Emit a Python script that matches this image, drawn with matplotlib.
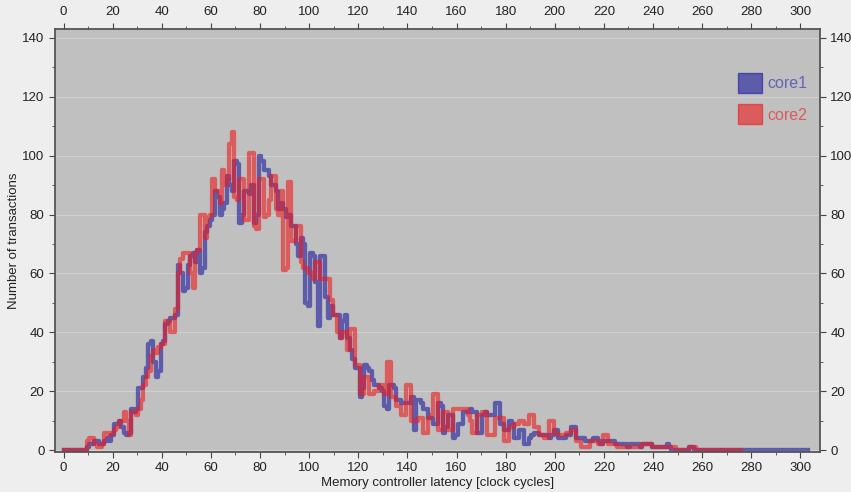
import matplotlib.pyplot as plt
from matplotlib.patches import Patch

# latency histogram, one bin per clock cycle
core1_counts = [
    0, 0, 0, 0, 0, 0, 0, 0, 0, 0,
    1, 2, 2, 3, 3, 2, 2, 3, 4, 3,
    5, 9, 9, 10, 8, 6, 5, 6, 14, 13,
    14, 21, 21, 25, 28, 36, 37, 30, 25, 27,
    36, 37, 43, 44, 45, 45, 46, 63, 60, 54,
    55, 63, 66, 67, 64, 68, 60, 62, 74, 76,
    78, 80, 88, 86, 80, 82, 84, 93, 90, 88,
    98, 97, 77, 80, 88, 88, 87, 90, 77, 80,
    100, 98, 95, 95, 93, 90, 90, 88, 82, 84,
    82, 79, 80, 76, 76, 70, 66, 72, 70, 50,
    49, 67, 66, 57, 42, 66, 66, 52, 45, 49,
    46, 46, 46, 38, 44, 46, 38, 34, 31, 28,
    28, 18, 21, 29, 28, 27, 24, 22, 22, 21,
    20, 15, 14, 22, 22, 21, 17, 17, 16, 16,
    16, 16, 18, 7, 17, 17, 16, 14, 14, 11,
    11, 9, 9, 16, 15, 6, 8, 12, 12, 4,
    5, 9, 9, 13, 13, 13, 14, 13, 13, 6,
    6, 12, 13, 12, 12, 12, 16, 16, 9, 9,
    7, 7, 10, 9, 4, 4, 7, 7, 2, 2,
    4, 5, 6, 6, 5, 5, 5, 5, 4, 5,
    7, 7, 4, 4, 4, 5, 5, 8, 8, 4,
    4, 4, 4, 3, 3, 3, 4, 4, 3, 2,
    3, 3, 3, 3, 3, 2, 2, 2, 2, 2,
    1, 2, 2, 2, 2, 1, 2, 2, 2, 2,
    1, 1, 1, 1, 1, 1, 2, 1, 0, 0,
    0, 0, 0, 0, 0, 1, 1, 0, 0, 0,
] + [0] * 44

core2_counts = [
    0, 0, 0, 0, 0, 0, 0, 0, 0, 0,
    3, 4, 4, 2, 1, 1, 2, 6, 6, 5,
    6, 7, 8, 10, 10, 13, 10, 5, 13, 13,
    12, 14, 17, 22, 25, 27, 32, 34, 33, 35,
    36, 36, 44, 44, 40, 40, 48, 60, 65, 67,
    67, 67, 60, 55, 67, 68, 80, 80, 72, 79,
    80, 92, 88, 88, 84, 95, 90, 92, 104, 108,
    86, 85, 92, 92, 78, 78, 101, 101, 76, 75,
    92, 92, 79, 80, 85, 93, 93, 82, 80, 88,
    61, 62, 91, 71, 71, 76, 76, 64, 62, 62,
    60, 60, 58, 64, 64, 58, 58, 58, 58, 51,
    46, 46, 40, 38, 40, 40, 34, 41, 41, 29,
    29, 19, 19, 25, 25, 19, 19, 20, 20, 22,
    22, 19, 30, 30, 18, 18, 15, 15, 12, 12,
    22, 22, 10, 10, 10, 11, 11, 6, 6, 11,
    12, 19, 19, 7, 7, 13, 13, 7, 7, 14,
    14, 14, 14, 14, 14, 12, 10, 6, 6, 12,
    12, 13, 13, 5, 5, 5, 11, 11, 11, 11,
    3, 3, 8, 8, 9, 9, 10, 10, 9, 9,
    12, 12, 8, 8, 5, 5, 4, 4, 10, 10,
    6, 6, 5, 5, 5, 6, 6, 7, 7, 3,
    3, 1, 1, 1, 1, 3, 3, 3, 2, 2,
    5, 5, 2, 2, 2, 2, 1, 1, 1, 1,
    1, 1, 1, 1, 1, 1, 2, 2, 2, 2,
    1, 1, 1, 1, 1, 1, 1, 1, 1, 1,
    0, 0, 0, 0, 0, 1, 1, 1, 0, 0,
] + [0] * 17

series_names = ["core1", "core2"]
series_colors = ["#1a1a9e", "#ee1a1a"]
text_colors = ["#6464b4", "#dc5a5a"]

plt.rcParams['font.family'] = ['Liberation Sans', 'DejaVu Sans']

fig = plt.figure(figsize=(8.51, 4.92), dpi=100, facecolor="#eeeeee")
ax = fig.add_axes([0.0646, 0.0813, 0.899, 0.86])
ax.set_facecolor("#c0c0c0")

for counts, col in zip([core1_counts, core2_counts], series_colors):
    ax.step(range(len(counts)), counts, where="mid", color=col, alpha=0.6, lw=3.1)

ax.set_xlim(-3.5, 308)
ax.set_ylim(-0.6, 143)
ax.set_xticks(range(0, 301, 20))
ax.set_xticks(range(0, 301, 10), minor=True)
ax.set_yticks(range(0, 141, 20))
ax.set_yticks(range(0, 141, 10), minor=True)
ax.tick_params(which="both", top=True, right=True, labeltop=True, labelright=True,
               direction="out", colors="#444444", labelcolor="#222222", labelsize=9.5)
ax.tick_params(which="major", length=4)
ax.tick_params(which="minor", length=2.5)
ax.grid(axis="y", color="#d0d0d0", lw=0.8)
ax.set_axisbelow(True)
for s in ax.spines.values():
    s.set_color("#555555")
    s.set_linewidth(1.3)

ax.set_xlabel("Memory controller latency [clock cycles]", fontsize=9.5, color="#222222", labelpad=2)
ax.set_ylabel("Number of transactions", fontsize=9.5, color="#222222", labelpad=2)

handles = [Patch(facecolor=c, edgecolor=c, alpha=0.6) for c in series_colors]
leg = ax.legend(handles, series_names, loc="upper left", bbox_to_anchor=(0.874, 0.93),
                frameon=False, handlelength=1.5, handleheight=1.55, labelspacing=0.72,
                handletextpad=0.35, fontsize=11.5)
for t, c in zip(leg.get_texts(), text_colors):
    t.set_color(c)

fig.savefig("out.png", dpi=100, facecolor=fig.get_facecolor())
